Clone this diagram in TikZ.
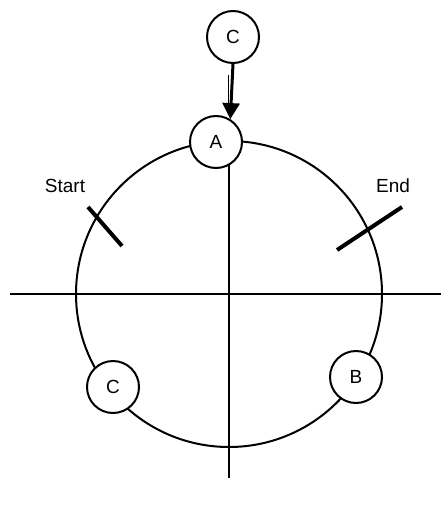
\documentclass[tikz,border=0pt]{standalone}
\usepackage{fontspec}
\setmainfont{Liberation Sans}
\usetikzlibrary{arrows.meta,calc}
\begin{document}
\begin{tikzpicture}[x=1pt,y=1pt,
  smallnode/.style={circle,draw,line width=2pt,fill=white,minimum size=52pt,inner sep=0pt,font=\fontsize{19}{22}\selectfont},
  axisline/.style={line width=1.6pt},
  tickline/.style={line width=4pt},
  lbl/.style={font=\fontsize{19}{22}\selectfont,inner sep=0pt}]
\useasboundingbox (0,0) rectangle (441,-508);
% axes
\coordinate (hl) at (10,-294);
\coordinate (hr) at (441,-294);
\coordinate (vt) at (229,-150);
\coordinate (vb) at (229,-478);
\draw[axisline] (hl) -- (hr);
\draw[axisline] (vt) -- (vb);
% main circle
\node[circle,draw,line width=2pt,minimum size=306pt,inner sep=0pt] (ring) at (229,-294) {};
% ticks
\coordinate (s1) at (88,-207);
\coordinate (s2) at (122,-246);
\coordinate (e1) at (337,-250);
\coordinate (e2) at (402,-207);
\draw[tickline] (s1) -- (s2);
\draw[tickline] (e1) -- (e2);
% labels
\node[lbl] (start) at (65,-186) {Start};
\node[lbl] (end) at (393,-186) {End};
% nodes
\node[smallnode] (a) at (216,-142) {A};
\node[smallnode] (ctop) at (233,-37) {C};
\node[smallnode] (cl) at (113,-387) {C};
\node[smallnode] (b) at (356,-377) {B};
% arrow
\coordinate (t1) at (228,-75);
\coordinate (t2) at (228,-112);
\draw[line width=1pt] (t1) -- (t2);
\draw[line width=3pt,-{Triangle[length=16pt,width=17pt]}] (ctop.south) -- (a.58);
\end{tikzpicture}
\end{document}
